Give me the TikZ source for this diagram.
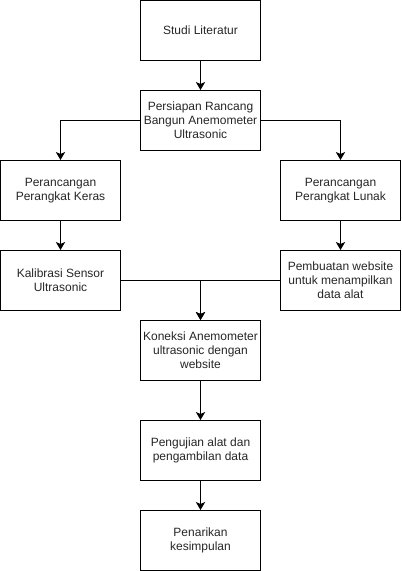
\documentclass[tikz,border=0pt]{standalone}
\usepackage{fontspec}
\setmainfont{Liberation Sans}
\usetikzlibrary{arrows.meta}
\begin{document}
\begin{tikzpicture}[x=0.75pt,y=-0.75pt,
  box/.style={draw=black,line width=0.75pt,minimum width=90pt,minimum height=45pt,inner sep=0pt,align=center,font=\fontsize{9}{10.5}\selectfont,text=black!85},
  conn/.style={draw=black,line width=0.75pt,-{Stealth[length=6pt,width=7pt,inset=1.5pt]}},
  plain/.style={draw=black,line width=0.75pt}]
\useasboundingbox (0,0) rectangle (401,571);
\node[box] (studi) at (200.5,30.5) {Studi Literatur};
\node[box] (pers) at (200.5,120.5) {Persiapan Rancang\\Bangun Anemometer\\Ultrasonic};
\node[box] (keras) at (60.5,190.5) {Perancangan\\Perangkat Keras};
\node[box] (lunak) at (340.5,190.5) {Perancangan\\Perangkat Lunak};
\node[box] (kal) at (60.5,280.5) {Kalibrasi Sensor\\Ultrasonic};
\node[box] (pemb) at (340.5,280.5) {Pembuatan website\\untuk menampilkan\\data alat};
\node[box] (kon) at (200.5,350.5) {Koneksi Anemometer\\ultrasonic dengan\\website};
\node[box] (uji) at (200.5,450.5) {Pengujian alat dan\\pengambilan data};
\node[box] (tarik) at (200.5,540.5) {Penarikan\\kesimpulan};
\draw[conn] (studi) -- (pers);
\draw[conn] (pers.west) -| (keras.north);
\draw[conn] (pers.east) -| (lunak.north);
\draw[conn] (keras) -- (kal);
\draw[conn] (lunak) -- (pemb);
\draw[conn] (kal.east) -| (kon.north);
\draw[conn] (pemb.west) -| (kon.north);
\draw[conn] (kon) -- (uji);
\draw[conn] (uji) -- (tarik);
\end{tikzpicture}
\end{document}
